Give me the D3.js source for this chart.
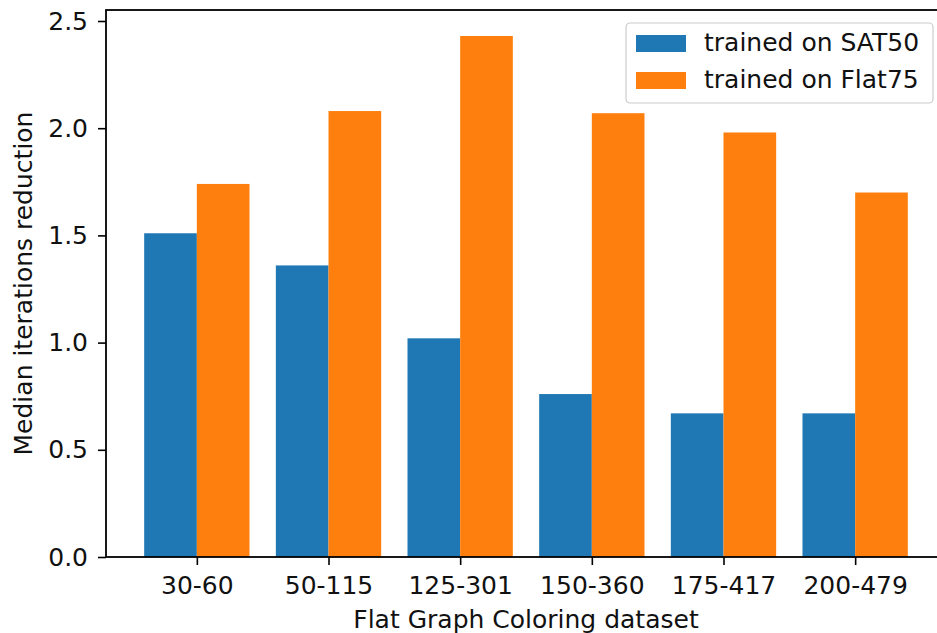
<!DOCTYPE html>
<html lang="en">
<head>
<meta charset="UTF-8">
<title>Median iterations reduction</title>
<script src="https://d3js.org/d3.v7.min.js"></script>
<style>
    body { margin: 0; background: #fff; }
    svg { display: block; font-family: "DejaVu Sans", sans-serif; }
</style>
</head>
<body>
<script>
// data
const datasets = ["30-60", "50-115", "125-301", "150-360", "175-417", "200-479"];
const sat50 = [1.51, 1.36, 1.02, 0.76, 0.67, 0.67];
const flat75 = [1.74, 2.08, 2.43, 2.07, 1.98, 1.70];
const seriesNames = ["trained on SAT50", "trained on Flat75"];
const yTicks = [0, 0.5, 1.0, 1.5, 2.0, 2.5];

const width = 937, height = 633;
const mLeft = 106, mRight = 946, mTop = 10, mBottom = 557;
const colors = ["#1f77b4", "#ff7f0e"];
const fs = 25;

const svg = d3.select("body").append("svg")
    .attr("width", width)
    .attr("height", height);

// matplotlib-like: bars at i-0.2 and i+0.2, width 0.4, 5% margins
const x = d3.scaleLinear().domain([-0.69, datasets.length - 1 + 0.69]).range([mLeft, mRight]);
const y = d3.scaleLinear().domain([0, 2.55]).range([mBottom, mBottom - 2.55 * 214.4]);
const bw = x(0.4) - x(0);

const series = [sat50, flat75];
series.forEach((vals, s) => {
    svg.append("g").selectAll("rect")
        .data(vals)
        .join("rect")
        .attr("x", (d, i) => x(i + (s === 0 ? -0.4 : 0)))
        .attr("y", d => y(d))
        .attr("width", bw)
        .attr("height", d => y(0) - y(d))
        .attr("fill", colors[s]);
});

// axes
const yAxis = svg.append("g")
    .attr("transform", `translate(${mLeft},0)`)
    .call(d3.axisLeft(y).tickValues(yTicks).tickFormat(d3.format(".1f")).tickSize(8).tickPadding(10));
const xAxis = svg.append("g")
    .attr("transform", `translate(0,${mBottom})`)
    .call(d3.axisBottom(x).tickValues(d3.range(datasets.length)).tickFormat(i => datasets[i]).tickSize(8).tickPadding(11));

[yAxis, xAxis].forEach(g => {
    g.select(".domain").remove();
    g.selectAll("line").attr("stroke", "#000").attr("stroke-width", 1.6);
    g.selectAll("text").attr("font-size", fs).attr("fill", "#111")
        .attr("font-family", "DejaVu Sans, sans-serif");
});

// spines
svg.append("rect")
    .attr("x", mLeft).attr("y", mTop)
    .attr("width", mRight - mLeft).attr("height", mBottom - mTop)
    .attr("fill", "none").attr("stroke", "#000").attr("stroke-width", 1.8);

// axis labels
svg.append("text")
    .attr("x", (mLeft + mRight) / 2).attr("y", 628)
    .attr("text-anchor", "middle").attr("font-size", fs).attr("fill", "#111")
    .text("Flat Graph Coloring dataset");
svg.append("text")
    .attr("transform", `translate(32,${(mTop + mBottom) / 2}) rotate(-90)`)
    .attr("text-anchor", "middle").attr("font-size", fs).attr("fill", "#111")
    .text("Median iterations reduction");

// legend
const lg = svg.append("g").attr("transform", "translate(626,23)");
lg.append("rect")
    .attr("width", 307).attr("height", 80).attr("rx", 4)
    .attr("fill", "#fff").attr("fill-opacity", 0.8)
    .attr("stroke", "#ccc").attr("stroke-width", 1.2);
seriesNames.forEach((name, i) => {
    lg.append("rect")
        .attr("x", 10).attr("y", 12 + i * 37)
        .attr("width", 50).attr("height", 17)
        .attr("fill", colors[i]);
    lg.append("text")
        .attr("x", 78).attr("y", 28 + i * 37)
        .attr("font-size", fs).attr("fill", "#111")
        .text(name);
});
</script>
</body>
</html>
